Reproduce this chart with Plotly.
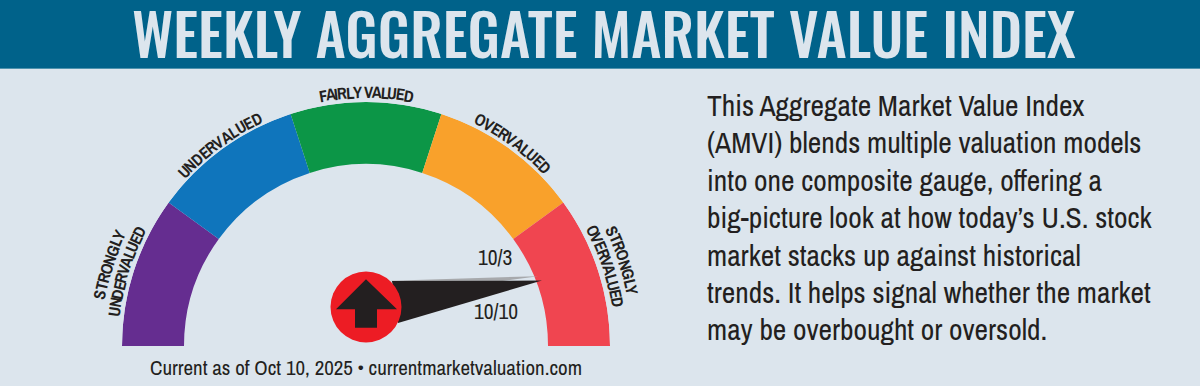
import numpy as np
import plotly.graph_objects as go

W, H = 1200, 386

# ---- data ----
title = "WEEKLY AGGREGATE MARKET VALUE INDEX"
zones = ["Strongly undervalued", "Undervalued", "Fairly valued", "Overvalued", "Strongly overvalued"]
zone_theta = [162, 126, 90, 54, 18]
zone_width = [36, 36, 36, 36, 36]
zone_inner = [182, 182, 182, 182, 182]
zone_band = [62, 62, 62, 62, 62]
zone_colors = ["#652D90", "#0F75BC", "#0C9647", "#F9A12B", "#F04550"]

needle_prev_r = [70, 185.7, 68]
needle_prev_theta = [69.0, 22.1, 50.0]
needle_now_r = [70, 187.7, 39.4]
needle_now_theta = [68.2, 20.4, 35.7]
hub_r = [39]
hub_theta = [90]
arrow_dx = [0, 31, 11, 11, -11, -11, -30, 0]
arrow_dy = [66.7, 36.7, 36.7, 18.3, 18.3, 36.7, 36.7, 66.7]

arc_text = ["FAIRLY VALUED", "UNDERVALUED", "OVERVALUED",
            "STRONGLY", "UNDERVALUED", "STRONGLY", "OVERVALUED"]
arc_theta = [90, 126, 54, 162.4, 162.6, 18.4, 18.4]
arc_radius = [254, 252, 253, 271, 254, 272, 255]
arc_length = [94, 100, 90, 71, 93, 72, 85]

body_lines = ["This Aggregate Market Value Index",
              "(AMVI) blends multiple valuation models",
              "into one composite gauge, offering a",
              "big-picture look at how today’s U.S. stock",
              "market stacks up against historical",
              "trends. It helps signal whether the market",
              "may be overbought or oversold."]
footer = "Current as of Oct 10, 2025 • currentmarketvaluation.com"
prev_label = "10/3"
now_label = "10/10"

# ---- layout constants ----
CX, CY, R = 366, 346, 244
NARROW = "Archivo Narrow, Liberation Sans, sans-serif"
HEAD = "Oswald, Archivo Narrow, Liberation Sans, sans-serif"
INK = "#231F20"
ADV = dict(A=722, B=722, C=722, D=722, E=667, F=611, G=778, H=722, I=278, J=556, K=722, L=611, M=833,
           N=722, O=778, P=667, Q=778, R=722, S=667, T=611, U=722, V=667, W=944, X=667, Y=667, Z=611)
ADV[" "] = 278


def px(x, y, xanchor="center", **kw):
    return dict(x=x / W, y=1 - y / H, xref="paper", yref="paper", showarrow=False,
                xanchor=xanchor, yanchor="middle", **kw)


def to_polar(dx, dy):
    dx, dy = np.asarray(dx, float), np.asarray(dy, float)
    return np.hypot(dx, dy), np.degrees(np.arctan2(dy, dx))


fig = go.Figure()
fig.add_trace(go.Barpolar(r=zone_band, base=zone_inner, theta=zone_theta, width=zone_width,
                          marker=dict(color=zone_colors, line=dict(width=0)), text=zones,
                          hoverinfo="text", showlegend=False))
fig.add_trace(go.Scatterpolar(r=needle_prev_r + needle_prev_r[:1], theta=needle_prev_theta + needle_prev_theta[:1],
                              mode="lines", fill="toself", fillcolor="#A7A9AC", line=dict(width=0),
                              hoverinfo="skip", showlegend=False))
fig.add_trace(go.Scatterpolar(r=needle_now_r + needle_now_r[:1], theta=needle_now_theta + needle_now_theta[:1],
                              mode="lines", fill="toself", fillcolor=INK, line=dict(width=0),
                              hoverinfo="skip", showlegend=False))
fig.add_trace(go.Scatterpolar(r=hub_r, theta=hub_theta, mode="markers",
                              marker=dict(size=71, color="#ED1C24", line=dict(width=0)),
                              hoverinfo="skip", showlegend=False))
ar, at = to_polar(arrow_dx, arrow_dy)
fig.add_trace(go.Scatterpolar(r=ar, theta=at, mode="lines", fill="toself", fillcolor=INK, line=dict(width=0),
                              hoverinfo="skip", showlegend=False))

ann = [px(604, 32, text=title, font=dict(family=HEAD, size=58, weight=500, color="#DCE5ED")),
       px(366, 367, text=footer, font=dict(family=NARROW, size=21, color=INK)),
       px(495, 257, text=prev_label, font=dict(family=NARROW, size=21.5, color=INK)),
       px(496, 311, text=now_label, font=dict(family=NARROW, size=21.5, color=INK))]

for i, line in enumerate(body_lines):
    ann.append(px(705, 105 + i * 37.4, xanchor="left", text=line,
                  font=dict(family=NARROW, size=29.5, color=INK)))

for txt, th, rad, length in zip(arc_text, arc_theta, arc_radius, arc_length):
    adv = np.array([ADV[c] for c in txt], float)
    adv *= length / adv.sum()
    mids = np.cumsum(adv) - adv / 2 - length / 2
    for c, m in zip(txt, mids):
        if c == " ":
            continue
        a = np.radians(th) - m / rad
        ann.append(px(CX + rad * np.cos(a), CY - rad * np.sin(a), text=f"<b>{c}</b>",
                      textangle=90 - np.degrees(a),
                      font=dict(family=NARROW, size=16.5, color=INK)))

fig.update_layout(
    width=W, height=H, margin=dict(l=0, r=0, t=0, b=0),
    paper_bgcolor="#DCE5ED", plot_bgcolor="#DCE5ED", showlegend=False,
    polar=dict(
        domain=dict(x=[(CX - R) / W, (CX + R) / W], y=[1 - CY / H, 1 - (CY - R) / H]),
        sector=[0, 180], bgcolor="rgba(0,0,0,0)",
        radialaxis=dict(range=[0, R], visible=False),
        angularaxis=dict(visible=False, thetaunit="degrees", direction="counterclockwise", rotation=0),
    ),
    shapes=[dict(type="rect", xref="paper", yref="paper", x0=0, x1=1, y0=1 - 69 / H, y1=1,
                 fillcolor="#00628A", line=dict(width=0), layer="below"),
            dict(type="rect", xref="paper", yref="paper", x0=0, x1=1, y0=1 - 69 / H, y1=1 - 68 / H,
                 fillcolor="#4F93AE", line=dict(width=0), layer="below")],
    annotations=ann,
)
fig.write_html("out.html", config=dict(displayModeBar=False),
               post_script="document.body.style.margin='0';document.body.style.overflow='hidden';"
                           "document.body.style.background='#DCE5ED';")
